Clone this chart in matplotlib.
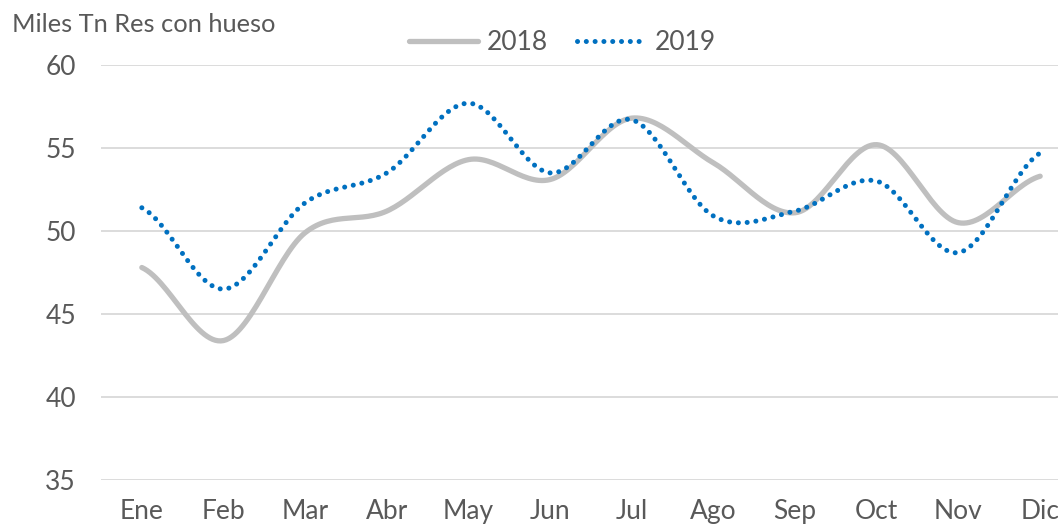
import numpy as np
import matplotlib.pyplot as plt

# Donnees (milliers de tonnes)
meses = ["Ene", "Feb", "Mar", "Abr", "May", "Jun", "Jul", "Ago", "Sep", "Oct", "Nov", "Dic"]
v2018 = [47.8, 43.4, 49.9, 51.2, 54.3, 53.1, 56.8, 54.1, 51.1, 55.2, 50.5, 53.3]
v2019 = [51.4, 46.5, 51.7, 53.5, 57.7, 53.5, 56.7, 50.9, 51.2, 53.0, 48.7, 54.7]

yticks = [35, 40, 45, 50, 55, 60]


def lissage(y, n=30):
    # courbe lissee type Excel (Catmull-Rom) passant par les points
    y = np.asarray(y, dtype=float)
    p = np.concatenate([[y[0]], y, [y[-1]]])
    xs, ys = [], []
    for i in range(len(y) - 1):
        p0, p1, p2, p3 = p[i], p[i + 1], p[i + 2], p[i + 3]
        t = np.linspace(0, 1, n, endpoint=False)
        yy = 0.5 * ((2 * p1) + (-p0 + p2) * t + (2 * p0 - 5 * p1 + 4 * p2 - p3) * t ** 2
                    + (-p0 + 3 * p1 - 3 * p2 + p3) * t ** 3)
        xs.append(i + t)
        ys.append(yy)
    xs.append([len(y) - 1])
    ys.append([y[-1]])
    return np.concatenate(xs), np.concatenate(ys)


plt.rcParams['font.family'] = ['Lato', 'DejaVu Sans']
gris_txt = '#595959'

fig = plt.figure(figsize=(10.58, 5.26), dpi=100)
ax = fig.add_axes([101 / 1058, 46 / 526, 980 / 1058, 415 / 526])

x1, y1 = lissage(v2018)
x2, y2 = lissage(v2019)
ax.plot(x1, y1, color='#BFBFBF', lw=3.8, solid_capstyle='round', label='2018')
ax.plot(x2, y2, color='#0070C0', lw=3.6, linestyle=(0, (0.01, 1.75)),
        dash_capstyle='round', label='2019')

ax.set_xlim(-0.5, 11.5)
ax.set_ylim(35, 60)
ax.set_yticks(yticks)
ax.set_xticks(range(len(meses)))
ax.set_xticklabels(meses)
ax.grid(axis='y', color='#D9D9D9', lw=1.3)
ax.set_axisbelow(True)
for s in ax.spines.values():
    s.set_visible(False)
ax.tick_params(length=0, labelsize=19, colors=gris_txt)
ax.tick_params(axis='y', pad=18)
ax.tick_params(axis='x', pad=14)

fig.text(12 / 1058, 1 - 25 / 526, "Miles Tn Res con hueso", fontsize=18.3,
         color=gris_txt, va='center', ha='left')

leg = fig.legend(loc='center', bbox_to_anchor=(562 / 1058, 1 - 43 / 526), ncol=2,
                 frameon=False, fontsize=19, handlelength=2.65, columnspacing=1.1,
                 handletextpad=0.3)
for t in leg.get_texts():
    t.set_color(gris_txt)

fig.savefig('out.png', dpi=100)
